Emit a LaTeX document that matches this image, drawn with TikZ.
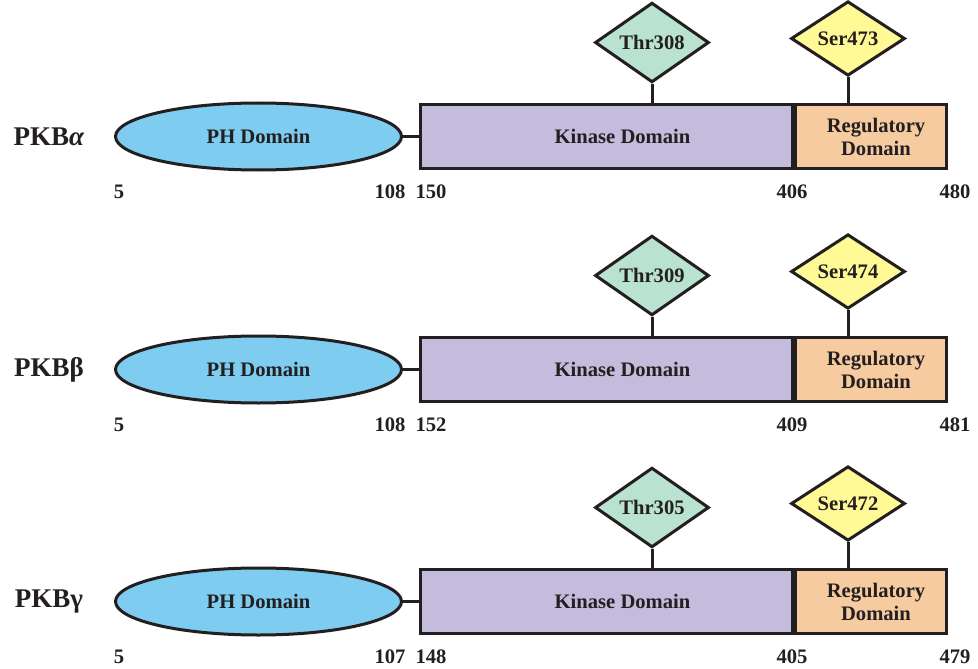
\documentclass[tikz,border=0pt]{standalone}
\usepackage{fontspec}
\setmainfont{Liberation Serif}
\usetikzlibrary{shapes.geometric}
\definecolor{phblue}{RGB}{126,204,240}
\definecolor{kinpurple}{RGB}{196,188,220}
\definecolor{regpeach}{RGB}{247,203,160}
\definecolor{thrgreen}{RGB}{186,226,208}
\definecolor{seryellow}{RGB}{255,250,150}
\definecolor{ink}{RGB}{35,31,32}
\begin{document}
\begin{tikzpicture}[x=1pt, y=-1pt, font=\bfseries\fontsize{20.6}{23}\selectfont, text=ink]
	    \tikzset{
	      dom/.style={draw=ink, line width=3pt, inner sep=0pt},
	      phdom/.style={dom, ellipse, fill=phblue, minimum width=286pt, minimum height=67pt},
	      kindom/.style={dom, rectangle, fill=kinpurple, minimum width=372pt, minimum height=64pt, anchor=west},
	      regdom/.style={dom, rectangle, fill=regpeach, minimum width=151pt, minimum height=64pt, anchor=west},
	      site/.style={dom, diamond, minimum width=114pt, minimum height=60pt},
	      isoform/.style={font=\bfseries\fontsize{27}{30}\selectfont}
	    }
	    \useasboundingbox (0,0) rectangle (978,669);
	    \foreach \r/\dy/\iso/\na/\nb/\nc/\nd/\ne/\thr/\ser in
	      {1/0/\textit{α}/5/108/150/406/480/Thr308/Ser473,
	       2/233/β/5/108/152/409/481/Thr309/Ser474,
	       3/465/γ/5/107/148/405/479/Thr305/Ser472}{
	    \begin{scope}[yshift=-\dy pt]
	      \node [isoform] (iso\r) at (49,136.5) {PKB\iso};
	      \node [phdom] (ph\r) at (258.5,136.5) {PH Domain};
	      \node [kindom, label={[xshift=16pt]center:Kinase Domain}] (kin\r) at (419,136.5) {};
	      \node [regdom, label={[xshift=5pt, align=center]center:Regulatory\\Domain}] (reg\r) at (kin\r.east) {};
	      \node [site, fill=thrgreen] (thr\r) at (652,42.5) {\thr};
	      \node [site, fill=seryellow] (ser\r) at (848,38.5) {\ser};
	      \draw [draw=ink, line width=3pt] (ph\r.east) -- (kin\r.west);
	      \draw [draw=ink, line width=3pt] (thr\r) -- (thr\r |- kin\r.north);
	      \draw [draw=ink, line width=3pt] (ser\r) -- (ser\r |- reg\r.north);
	      \node (na\r) at (119,192) {\na};
	      \node (nb\r) at (390,192) {\nb};
	      \node (nc\r) at (431,192) {\nc};
	      \node (nd\r) at (792,192) {\nd};
	      \node (ne\r) at (955,192) {\ne};
	    \end{scope}
	    }
	\end{tikzpicture}
\end{document}
